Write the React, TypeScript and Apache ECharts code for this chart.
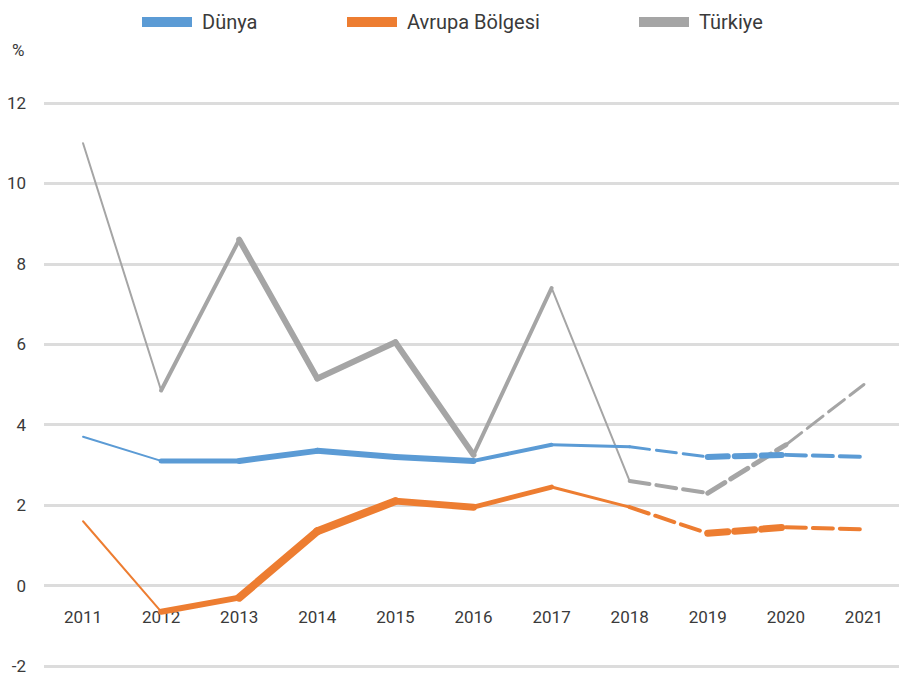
import React, { useEffect, useRef } from "react";
import * as echarts from "echarts";

const years = ["2011", "2012", "2013", "2014", "2015", "2016", "2017", "2018", "2019", "2020", "2021"];
const dunya = [3.7, 3.1, 3.1, 3.35, 3.2, 3.1, 3.5, 3.45, 3.2, 3.25, 3.2];
const avrupa = [1.6, -0.65, -0.3, 1.35, 2.1, 1.95, 2.45, 1.95, 1.3, 1.45, 1.4];
const turkiye = [11.0, 4.85, 8.6, 5.15, 6.05, 3.25, 7.4, 2.6, 2.3, 3.5, 5.0];
const yTicks = [-2, 0, 2, 4, 6, 8, 10, 12];
const names = ["Dünya", "Avrupa Bölgesi", "Türkiye"];

const colors = ["#5B9BD5", "#ED7D31", "#A5A5A5"];
// per-segment stroke widths (styling only)
const segWidths = [
  [2, 5, 6, 6, 6, 4, 3, 3, 6, 4],
  [2, 6, 8, 8, 7, 5, 3, 4, 7, 4],
  [2, 4, 6, 6, 6, 4, 2, 4, 5, 3],
];
const forecastStart = 7; // segments from 2018 on are dashed

export default function App() {
  const ref = useRef<HTMLDivElement>(null);
  useEffect(() => {
    document.body.style.margin = "0";
    const chart = echarts.init(ref.current!, null, { renderer: "svg" });
    const all = [dunya, avrupa, turkiye];
    const series: any[] = [];
    all.forEach((vals, s) => {
      for (let i = 0; i < vals.length - 1; i++) {
        series.push({
          type: "line",
          name: i === 0 ? names[s] : names[s] + " #" + i,
          data: vals.map((v, j) => (j === i || j === i + 1 ? v : null)),
          showSymbol: false,
          symbol: "none",
          connectNulls: false,
          color: colors[s],
          lineStyle: {
            color: colors[s],
            width: segWidths[s][i],
            type: i >= forecastStart ? [20, 7] : "solid",
            cap: "round",
          },
          z: 3 - s,
          silent: true,
        });
      }
    });
    const legendBase = {
      top: 7,
      icon: "rect",
      itemWidth: 50,
      itemHeight: 10,
      selectedMode: false,
      textStyle: {
        fontFamily: "Roboto",
        fontSize: 20,
        color: "#3a3a3a",
        padding: [0, 0, 0, 5],
      },
    };
    chart.setOption({
      animation: false,
      backgroundColor: "#ffffff",
      legend: [
        { ...legendBase, left: 137, data: [{ name: names[0], itemStyle: { color: colors[0] } }] },
        { ...legendBase, left: 342, data: [{ name: names[1], itemStyle: { color: colors[1] } }] },
        { ...legendBase, left: 634, data: [{ name: names[2], itemStyle: { color: colors[2] } }] },
      ],
      graphic: [
        {
          type: "text",
          left: 12,
          top: 41,
          style: { text: "%", fontFamily: "Roboto", fontSize: 17, fill: "#3a3a3a" },
        },
      ],
      grid: {
        left: 44,
        right: -4,
        top: 103,
        bottom: 15,
        containLabel: false,
        outerBoundsMode: "none",
      },
      xAxis: {
        type: "category",
        data: years,
        boundaryGap: true,
        axisLine: { show: false, onZero: false },
        axisTick: { show: false },
        axisLabel: {
          margin: -58,
          fontFamily: "Roboto",
          fontSize: 17,
          color: "#3a3a3a",
        },
        splitLine: { show: false },
      },
      yAxis: {
        type: "value",
        min: yTicks[0],
        max: yTicks[yTicks.length - 1],
        interval: 2,
        axisLine: { show: false },
        axisTick: { show: false },
        axisLabel: {
          margin: 18,
          fontFamily: "Roboto",
          fontSize: 17,
          color: "#3a3a3a",
        },
        splitLine: { lineStyle: { color: "#dcdcdc", width: 3 } },
      },
      series,
    });
    return () => chart.dispose();
  }, []);
  return <div ref={ref} style={{ width: 899, height: 681 }} />;
}
